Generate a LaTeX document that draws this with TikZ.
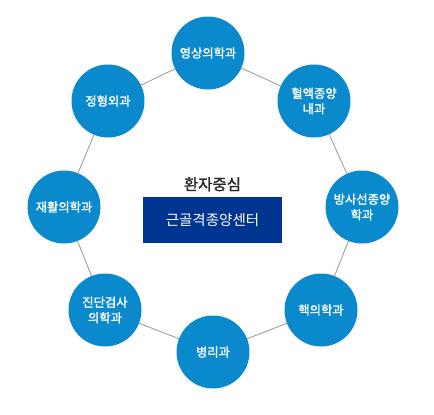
\documentclass[tikz,border=0pt]{standalone}
\usepackage{fontspec}
\newfontfamily\kr{Noto Sans CJK KR}
\newfontfamily\krbold[FakeBold=1.6]{Noto Sans CJK KR}
\usetikzlibrary{positioning}
\definecolor{deptblue}{RGB}{10,138,205}
\definecolor{centernavy}{RGB}{0,52,145}
\definecolor{linkgray}{RGB}{150,150,150}
\definecolor{titlegray}{RGB}{40,40,40}

\begin{document}
\begin{tikzpicture}[
    x=1pt, y=-1pt,
    dept/.style={circle, fill=deptblue, minimum size=73pt, inner sep=0pt,
        text=white, align=center, font=\krbold\fontsize{12.3}{15.5}\selectfont},
    link/.style={draw=linkgray, line width=0.8pt},
    centerbox/.style={rectangle, fill=centernavy, minimum width=139pt, minimum height=46pt,
        text=white, font=\kr\fontsize{14.5}{16}\selectfont}
]
\useasboundingbox (0,0) rectangle (434,415);

% --- Departments around the centre ---
\node[dept] (d1) at (208,53)  {영상의학과};
\node[dept] (d2) at (314,101) {혈액종양\\내과};
\node[dept] (d3) at (362,207) {방사선종양\\학과};
\node[dept] (d4) at (321,310) {핵의학과};
\node[dept] (d5) at (213,352) {병리과};
\node[dept] (d6) at (105,310) {진단검사\\의학과};
\node[dept] (d7) at (64,207)  {재활의학과};
\node[dept] (d8) at (108,101) {정형외과};

% --- Ring of links between neighbours ---
\foreach \i/\j in {1/2,2/3,3/4,4/5,5/6,6/7,7/8,8/1}
    \draw[link] (d\i) -- (d\j);

% --- Centre title and box ---
\node[centerbox] (center) at (212.5,220) {근골격종양센터};
\node[above=2pt of center, text=titlegray, font=\krbold\fontsize{15.5}{18}\selectfont] (title) {환자중심};

\end{tikzpicture}
\end{document}
